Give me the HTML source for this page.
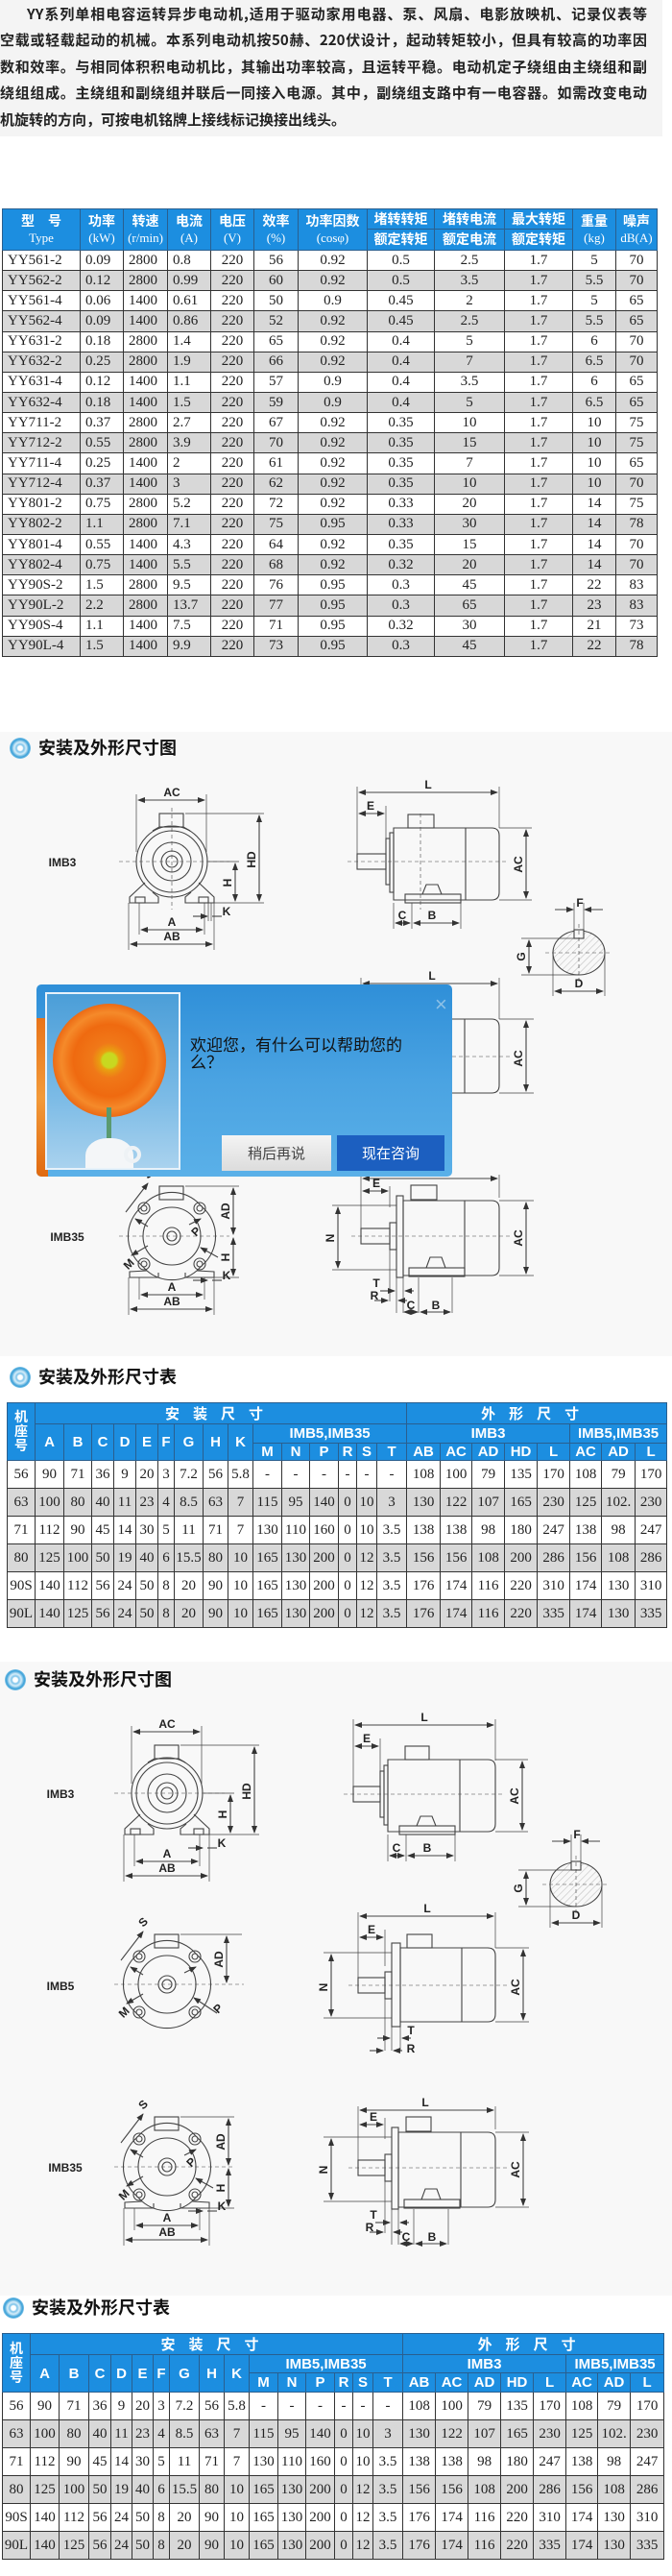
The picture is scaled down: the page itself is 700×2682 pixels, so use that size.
<!DOCTYPE html>
<html><head><meta charset="utf-8">
<style>
*{margin:0;padding:0;box-sizing:border-box}
body{width:700px;height:2682px;overflow:hidden;background:#fff;position:relative;font-family:"Liberation Sans","Noto Sans CJK SC",sans-serif}
.abs{position:absolute}
.intro{position:absolute;left:0;top:0;width:690px;height:142px;background:#f4f4f4}
.ln{position:absolute;left:0;width:674px;font-size:15px;font-weight:bold;color:#222;white-space:nowrap;text-align:justify;text-align-last:justify;line-height:20px;font-family:"Noto Sans CJK SC",sans-serif}
table{border-collapse:collapse;table-layout:fixed;position:absolute}
td,th{border:1.5px solid #333;overflow:hidden;white-space:nowrap;padding:0}
.t1 th{background:#1c8ee0;color:#fff;font-weight:bold;font-size:14px;font-family:"Noto Sans CJK SC",sans-serif;line-height:17px;border-color:#2a5f8f}
.t1 th .e{font-family:"Liberation Serif",serif;font-weight:normal;font-size:13px}
.t1 td{font-family:"Liberation Serif",serif;font-size:15px;height:21.15px;text-align:center;color:#222}
.t1 td.l{text-align:left;padding-left:5px}
.t1 tr:nth-child(even) td{background:#d8d8d8}
.t2 th{background:#1c8ee0;color:#fff;font-size:15px;font-weight:bold;border-color:#2a5f8f;font-family:"Liberation Sans","Noto Sans CJK SC",sans-serif}
.t2 th.c{font-family:"Noto Sans CJK SC",sans-serif;letter-spacing:14px}
.t2 td{font-family:"Liberation Serif",serif;font-size:15px;height:29px;text-align:center;color:#222}
.t2 tr.g td{background:#d8d8d8}
.head{position:absolute;left:10px;font-size:18px;font-weight:bold;color:#111;font-family:"Noto Sans CJK SC",sans-serif;line-height:24px}
.head i{display:inline-block;width:22px;height:22px;border-radius:50%;vertical-align:-5px;margin-right:8px;background:radial-gradient(circle at 50% 50%,#fff 0 15%,#7cc3ea 25%,#d8eef9 40%,#3aa0d8 60%,#bfe3f5 80%,#e8f4fb 100%)}
.panel{position:absolute;background:#f8f8f8}
svg text{font-family:"Liberation Sans",sans-serif;font-size:12px;font-weight:bold;fill:#222;text-anchor:middle}
.pop{position:absolute;left:38px;top:1025px;width:433px;height:200px;border-radius:5px;background:linear-gradient(180deg,#2f8fd8 0%,#4aa3e2 50%,#5ab0e8 100%);overflow:hidden}
</style></head><body>

<div class="intro">
<div class="ln" style="left:28px;width:646px;top:5px">YY系列单相电容运转异步电动机,适用于驱动家用电器、泵、风扇、电影放映机、记录仪表等</div>
<div class="ln" style="top:32px">空载或轻载起动的机械。本系列电动机按50赫、220伏设计，起动转矩较小，但具有较高的功率因</div>
<div class="ln" style="top:60px">数和效率。与相同体积积电动机比，其输出功率较高，且运转平稳。电动机定子绕组由主绕组和副</div>
<div class="ln" style="top:87px">绕组组成。主绕组和副绕组并联后一同接入电源。其中，副绕组支路中有一电容器。如需改变电动</div>
<div class="ln" style="top:115px;width:auto;text-align:left;text-align-last:left">机旋转的方向，可按电机铭牌上接线标记换接出线头。</div>
</div>

<table class="t1" style="left:2px;top:217px;width:682px">
<colgroup><col style="width:81px"><col style="width:45px"><col style="width:46px"><col style="width:45px"><col style="width:45px"><col style="width:46px"><col style="width:72px"><col style="width:70px"><col style="width:73px"><col style="width:71px"><col style="width:45px"><col style="width:43px"></colgroup>
<tr style="height:21px"><th rowspan="2">型　号<br><span class="e">Type</span></th><th rowspan="2">功率<br><span class="e">(kW)</span></th><th rowspan="2">转速<br><span class="e">(r/min)</span></th><th rowspan="2">电流<br><span class="e">(A)</span></th><th rowspan="2">电压<br><span class="e">(V)</span></th><th rowspan="2">效率<br><span class="e">(%)</span></th><th rowspan="2">功率因数<br><span class="e">(cosφ)</span></th><th>堵转转矩</th><th>堵转电流</th><th>最大转矩</th><th rowspan="2">重量<br><span class="e">(kg)</span></th><th rowspan="2">噪声<br><span class="e">dB(A)</span></th></tr>
<tr style="height:22px"><th>额定转矩</th><th>额定电流</th><th>额定转矩</th></tr>
<tr><td class="l">YY561-2</td><td class="l">0.09</td><td class="l">2800</td><td class="l">0.8</td><td>220</td><td>56</td><td>0.92</td><td>0.5</td><td>2.5</td><td>1.7</td><td>5</td><td>70</td></tr>
<tr><td class="l">YY562-2</td><td class="l">0.12</td><td class="l">2800</td><td class="l">0.99</td><td>220</td><td>60</td><td>0.92</td><td>0.5</td><td>3.5</td><td>1.7</td><td>5.5</td><td>70</td></tr>
<tr><td class="l">YY561-4</td><td class="l">0.06</td><td class="l">1400</td><td class="l">0.61</td><td>220</td><td>50</td><td>0.9</td><td>0.45</td><td>2</td><td>1.7</td><td>5</td><td>65</td></tr>
<tr><td class="l">YY562-4</td><td class="l">0.09</td><td class="l">1400</td><td class="l">0.86</td><td>220</td><td>52</td><td>0.92</td><td>0.45</td><td>2.5</td><td>1.7</td><td>5.5</td><td>65</td></tr>
<tr><td class="l">YY631-2</td><td class="l">0.18</td><td class="l">2800</td><td class="l">1.4</td><td>220</td><td>65</td><td>0.92</td><td>0.4</td><td>5</td><td>1.7</td><td>6</td><td>70</td></tr>
<tr><td class="l">YY632-2</td><td class="l">0.25</td><td class="l">2800</td><td class="l">1.9</td><td>220</td><td>66</td><td>0.92</td><td>0.4</td><td>7</td><td>1.7</td><td>6.5</td><td>70</td></tr>
<tr><td class="l">YY631-4</td><td class="l">0.12</td><td class="l">1400</td><td class="l">1.1</td><td>220</td><td>57</td><td>0.9</td><td>0.4</td><td>3.5</td><td>1.7</td><td>6</td><td>65</td></tr>
<tr><td class="l">YY632-4</td><td class="l">0.18</td><td class="l">1400</td><td class="l">1.5</td><td>220</td><td>59</td><td>0.9</td><td>0.4</td><td>5</td><td>1.7</td><td>6.5</td><td>65</td></tr>
<tr><td class="l">YY711-2</td><td class="l">0.37</td><td class="l">2800</td><td class="l">2.7</td><td>220</td><td>67</td><td>0.92</td><td>0.35</td><td>10</td><td>1.7</td><td>10</td><td>75</td></tr>
<tr><td class="l">YY712-2</td><td class="l">0.55</td><td class="l">2800</td><td class="l">3.9</td><td>220</td><td>70</td><td>0.92</td><td>0.35</td><td>15</td><td>1.7</td><td>10</td><td>75</td></tr>
<tr><td class="l">YY711-4</td><td class="l">0.25</td><td class="l">1400</td><td class="l">2</td><td>220</td><td>61</td><td>0.92</td><td>0.35</td><td>7</td><td>1.7</td><td>10</td><td>65</td></tr>
<tr><td class="l">YY712-4</td><td class="l">0.37</td><td class="l">1400</td><td class="l">3</td><td>220</td><td>62</td><td>0.92</td><td>0.35</td><td>10</td><td>1.7</td><td>10</td><td>70</td></tr>
<tr><td class="l">YY801-2</td><td class="l">0.75</td><td class="l">2800</td><td class="l">5.2</td><td>220</td><td>72</td><td>0.92</td><td>0.33</td><td>20</td><td>1.7</td><td>14</td><td>75</td></tr>
<tr><td class="l">YY802-2</td><td class="l">1.1</td><td class="l">2800</td><td class="l">7.1</td><td>220</td><td>75</td><td>0.95</td><td>0.33</td><td>30</td><td>1.7</td><td>14</td><td>78</td></tr>
<tr><td class="l">YY801-4</td><td class="l">0.55</td><td class="l">1400</td><td class="l">4.3</td><td>220</td><td>64</td><td>0.92</td><td>0.35</td><td>15</td><td>1.7</td><td>14</td><td>70</td></tr>
<tr><td class="l">YY802-4</td><td class="l">0.75</td><td class="l">1400</td><td class="l">5.5</td><td>220</td><td>68</td><td>0.92</td><td>0.32</td><td>20</td><td>1.7</td><td>14</td><td>70</td></tr>
<tr><td class="l">YY90S-2</td><td class="l">1.5</td><td class="l">2800</td><td class="l">9.5</td><td>220</td><td>76</td><td>0.95</td><td>0.3</td><td>45</td><td>1.7</td><td>22</td><td>83</td></tr>
<tr><td class="l">YY90L-2</td><td class="l">2.2</td><td class="l">2800</td><td class="l">13.7</td><td>220</td><td>77</td><td>0.95</td><td>0.3</td><td>65</td><td>1.7</td><td>23</td><td>83</td></tr>
<tr><td class="l">YY90S-4</td><td class="l">1.1</td><td class="l">1400</td><td class="l">7.5</td><td>220</td><td>71</td><td>0.95</td><td>0.32</td><td>30</td><td>1.7</td><td>21</td><td>73</td></tr>
<tr><td class="l">YY90L-4</td><td class="l">1.5</td><td class="l">1400</td><td class="l">9.9</td><td>220</td><td>73</td><td>0.95</td><td>0.3</td><td>45</td><td>1.7</td><td>22</td><td>78</td></tr>
</table>

<div class="panel" style="left:0;top:762px;width:700px;height:650px"></div>
<div class="panel" style="left:0;top:1730px;width:700px;height:660px"></div>

<div class="head" style="top:766px"><i></i>安装及外形尺寸图</div>
<div class="head" style="top:1421px"><i></i>安装及外形尺寸表</div>
<div class="head" style="top:1736px;left:5px"><i></i>安装及外形尺寸图</div>
<div class="head" style="top:2390px;left:3px"><i></i>安装及外形尺寸表</div>

<svg class="abs" style="left:0;top:0" width="700" height="2682">
<defs>
<marker id="a" markerWidth="8" markerHeight="6" refX="7" refY="3" orient="auto-start-reverse" markerUnits="userSpaceOnUse"><path d="M0,0 L8,3 L0,6z" fill="#333"/></marker>
<pattern id="h" width="5" height="5" patternUnits="userSpaceOnUse" patternTransform="rotate(45)"><line x1="0" y1="0" x2="0" y2="5" stroke="#aaa" stroke-width="0.8"/></pattern>
</defs>
<g fill="none" stroke="#444" stroke-width="1.1">

<!-- ===== SECTION 1 ===== -->
<text x="65" y="902" stroke="none" font-size="14" font-weight="normal">IMB3</text>
<g transform="translate(179,897)">
 <line x1="-37" y1="-70" x2="-37" y2="-10" stroke-width=".7"/><line x1="36" y1="-70" x2="36" y2="-10" stroke-width=".7"/>
 <line x1="-35" y1="-64" x2="34" y2="-64" marker-start="url(#a)" marker-end="url(#a)"/>
 <text x="0" y="-68" stroke="none">AC</text>
 <rect x="-13" y="-50" width="25" height="14"/><line x1="-13" y1="-36" x2="-20" y2="-32"/><line x1="12" y1="-36" x2="19" y2="-32"/>
 <circle r="37"/><circle r="32"/><circle r="20"/><circle r="11"/><circle r="6"/>
 <path d="M-28,22 L-44,37 V43 H-14 V37 L-20,32"/><path d="M28,22 L44,37 V43 H14 V37 L20,32"/>
 <rect x="-38" y="37" width="10" height="6"/><rect x="28" y="37" width="10" height="6"/>
 <line x1="-55" y1="0" x2="60" y2="0" stroke-dasharray="4 3" stroke-width=".6"/>
 <line x1="0" y1="-56" x2="0" y2="50" stroke-dasharray="4 3" stroke-width=".6"/>
 <line x1="14" y1="-50" x2="96" y2="-50" stroke-width=".7"/><line x1="44" y1="43" x2="96" y2="43" stroke-width=".7"/>
 <line x1="91" y1="-48" x2="91" y2="41" marker-start="url(#a)" marker-end="url(#a)"/>
 <text transform="translate(87,-2) rotate(-90)" stroke="none">HD</text>
 <line x1="38" y1="0" x2="70" y2="0" stroke-width=".7"/>
 <line x1="66" y1="2" x2="66" y2="41" marker-start="url(#a)" marker-end="url(#a)"/>
 <text transform="translate(62,22) rotate(-90)" stroke="none">H</text>
 <line x1="-45" y1="43" x2="-45" y2="92" stroke-width=".7"/><line x1="44" y1="43" x2="44" y2="92" stroke-width=".7"/>
 <line x1="-34" y1="43" x2="-34" y2="76" stroke-width=".7"/><line x1="34" y1="43" x2="34" y2="76" stroke-width=".7"/>
 <line x1="38" y1="43" x2="38" y2="62" stroke-width=".7"/><line x1="41" y1="43" x2="41" y2="62" stroke-width=".7"/>
 <line x1="-32" y1="71" x2="32" y2="71" marker-start="url(#a)" marker-end="url(#a)"/><text x="0" y="67" stroke="none">A</text>
 <line x1="-43" y1="86" x2="42" y2="86" marker-start="url(#a)" marker-end="url(#a)"/><text x="0" y="82" stroke="none">AB</text>
 <line x1="22" y1="57" x2="37" y2="57" marker-end="url(#a)"/><line x1="42" y1="57" x2="52" y2="57"/><text x="57" y="56" stroke="none">K</text>
</g>
<g transform="translate(372,897)">
 <line x1="0" y1="-78" x2="0" y2="-8" stroke-width=".7"/><line x1="148" y1="-78" x2="148" y2="-35" stroke-width=".7"/>
 <line x1="2" y1="-72" x2="146" y2="-72" marker-start="url(#a)" marker-end="url(#a)"/><text x="74" y="-76" stroke="none">L</text>
 <line x1="30" y1="-58" x2="30" y2="-24" stroke-width=".7"/>
 <line x1="2" y1="-50" x2="28" y2="-50" marker-start="url(#a)" marker-end="url(#a)"/><text x="14" y="-54" stroke="none">E</text>
 <rect x="0" y="-8" width="30" height="16"/>
 <rect x="30" y="-24" width="4" height="48"/><rect x="34" y="-30" width="4" height="62"/>
 <path d="M38,-35 H140 Q148,-35 148,-27 V32 Q148,40 140,40 H38 Z"/><line x1="113" y1="-35" x2="113" y2="40"/>
 <rect x="53" y="-49" width="27" height="14"/>
 <rect x="50" y="34" width="58" height="9"/><path d="M68,34 L72,24 H84 L88,34"/>
 <line x1="-10" y1="0" x2="158" y2="0" stroke-dasharray="4 3" stroke-width=".6"/>
 <line x1="66" y1="-50" x2="66" y2="50" stroke-dasharray="4 3" stroke-width=".6"/>
 <line x1="148" y1="-35" x2="182" y2="-35" stroke-width=".7"/><line x1="148" y1="40" x2="182" y2="40" stroke-width=".7"/>
 <line x1="176" y1="-33" x2="176" y2="38" marker-start="url(#a)" marker-end="url(#a)"/>
 <text transform="translate(172,3) rotate(-90)" stroke="none">AC</text>
 <line x1="38" y1="43" x2="38" y2="70" stroke-width=".7"/><line x1="57" y1="43" x2="57" y2="70" stroke-width=".7"/><line x1="108" y1="43" x2="108" y2="70" stroke-width=".7"/>
 <line x1="40" y1="64" x2="55" y2="64" marker-start="url(#a)" marker-end="url(#a)"/><text x="47" y="60" stroke="none">C</text>
 <line x1="59" y1="64" x2="106" y2="64" marker-start="url(#a)" marker-end="url(#a)"/><text x="78" y="60" stroke="none">B</text>
</g>
<g transform="translate(603,992)">
 <ellipse rx="27" ry="23" fill="url(#h)"/>
 <rect x="-5" y="-24" width="10" height="9" fill="#f8f8f8"/>
 <line x1="-5" y1="-52" x2="-5" y2="-15" stroke-width=".7"/><line x1="5" y1="-52" x2="5" y2="-15" stroke-width=".7"/>
 <line x1="-25" y1="-45" x2="-6" y2="-45" marker-end="url(#a)"/><line x1="6" y1="-45" x2="25" y2="-45" marker-start="url(#a)"/>
 <text x="1" y="-48" stroke="none">F</text>
 <line x1="-60" y1="-15" x2="-5" y2="-15" stroke-width=".7"/><line x1="-60" y1="23" x2="0" y2="23" stroke-width=".7"/>
 <line x1="-52" y1="-13" x2="-52" y2="21" marker-start="url(#a)" marker-end="url(#a)"/>
 <text transform="translate(-56,4) rotate(-90)" stroke="none">G</text>
 <line x1="-27" y1="0" x2="-27" y2="45" stroke-width=".7"/><line x1="27" y1="0" x2="27" y2="45" stroke-width=".7"/>
 <line x1="-25" y1="40" x2="25" y2="40" marker-start="url(#a)" marker-end="url(#a)"/><text x="0" y="36" stroke="none">D</text>
 <line x1="-35" y1="0" x2="35" y2="0" stroke-dasharray="4 3" stroke-width=".6"/><line x1="0" y1="-30" x2="0" y2="30" stroke-dasharray="4 3" stroke-width=".6"/>
</g>
<!-- hidden IMB5 side under popup -->
<g transform="translate(376,1100)">
 <line x1="0" y1="-82" x2="0" y2="-8" stroke-width=".7"/><line x1="144" y1="-82" x2="144" y2="-39" stroke-width=".7"/>
 <line x1="2" y1="-76" x2="142" y2="-76" marker-start="url(#a)" marker-end="url(#a)"/><text x="74" y="-80" stroke="none">L</text>
 <path d="M44,-39 H136 Q144,-39 144,-31 V30 Q144,38 136,38 H44 Z"/><line x1="108" y1="-39" x2="108" y2="38"/>
 <line x1="-10" y1="0" x2="158" y2="0" stroke-dasharray="4 3" stroke-width=".6"/>
 <line x1="144" y1="-39" x2="180" y2="-39" stroke-width=".7"/><line x1="144" y1="38" x2="180" y2="38" stroke-width=".7"/>
 <line x1="172" y1="-37" x2="172" y2="36" marker-start="url(#a)" marker-end="url(#a)"/>
 <text transform="translate(168,2) rotate(-90)" stroke="none">AC</text>
</g>

<!-- IMB35 section 1 -->
<text x="70" y="1292" stroke="none" font-size="14" font-weight="normal">IMB35</text>
<g transform="translate(179,1287)">
 <rect x="-13" y="-52" width="25" height="14"/>
 <path d="M-26,-36 A40,40 0 0 1 26,-36 L32,-30 A40,40 0 0 1 32,30 L26,36 A40,40 0 0 1 -26,36 L-32,30 A40,40 0 0 1 -32,-30 Z"/>
 <circle r="30"/><circle r="9"/><circle r="5"/>
 <circle cx="-29" cy="-29" r="6"/><circle cx="29" cy="-29" r="6"/><circle cx="-29" cy="29" r="6"/><circle cx="29" cy="29" r="6"/>
 <circle cx="-29" cy="-29" r="3"/><circle cx="29" cy="-29" r="3"/><circle cx="-29" cy="29" r="3"/><circle cx="29" cy="29" r="3"/>
 <path d="M-26,36 L-44,37 V43 H-14 V38"/><path d="M26,36 L44,37 V43 H14 V38"/>
 <line x1="-55" y1="0" x2="60" y2="0" stroke-dasharray="4 3" stroke-width=".6"/>
 <line x1="-48" y1="-25" x2="-25" y2="-55" marker-end="url(#a)"/><text x="-22" y="-62" stroke="none" transform="rotate(-45,-22,-62)">S</text>
 <line x1="-38" y1="-18" x2="-25" y2="-10" marker-start="url(#a)"/><line x1="-42" y1="20" x2="-25" y2="10" marker-start="url(#a)"/>
 <text x="-42" y="32" stroke="none" transform="rotate(-45,-42,32)">M</text>
 <line x1="18" y1="-12" x2="30" y2="-18" marker-end="url(#a)"/><text x="28" y="-2" stroke="none" transform="rotate(-45,28,-2)">P</text>
 <line x1="30" y1="12" x2="48" y2="22" marker-start="url(#a)"/>
 <line x1="14" y1="-52" x2="70" y2="-52" stroke-width=".7"/><line x1="44" y1="43" x2="70" y2="43" stroke-width=".7"/>
 <line x1="64" y1="-50" x2="64" y2="-2" marker-start="url(#a)" marker-end="url(#a)"/><text transform="translate(60,-26) rotate(-90)" stroke="none">AD</text>
 <line x1="64" y1="2" x2="64" y2="41" marker-start="url(#a)" marker-end="url(#a)"/><text transform="translate(60,22) rotate(-90)" stroke="none">H</text>
 <line x1="-45" y1="43" x2="-45" y2="82" stroke-width=".7"/><line x1="44" y1="43" x2="44" y2="82" stroke-width=".7"/>
 <line x1="-34" y1="43" x2="-34" y2="66" stroke-width=".7"/><line x1="34" y1="43" x2="34" y2="66" stroke-width=".7"/>
 <line x1="-32" y1="61" x2="32" y2="61" marker-start="url(#a)" marker-end="url(#a)"/><text x="0" y="57" stroke="none">A</text>
 <line x1="-43" y1="76" x2="42" y2="76" marker-start="url(#a)" marker-end="url(#a)"/><text x="0" y="72" stroke="none">AB</text>
 <line x1="22" y1="46" x2="37" y2="46" marker-end="url(#a)"/><line x1="42" y1="46" x2="52" y2="46"/><text x="57" y="45" stroke="none">K</text>
</g>
<g transform="translate(376,1287)">
 <line x1="0" y1="-64" x2="0" y2="-8" stroke-width=".7"/><line x1="144" y1="-64" x2="144" y2="-40" stroke-width=".7"/>
 <line x1="2" y1="-60" x2="142" y2="-60" marker-start="url(#a)" marker-end="url(#a)"/>
 <line x1="30" y1="-52" x2="30" y2="-30" stroke-width=".7"/>
 <line x1="2" y1="-47" x2="28" y2="-47" marker-start="url(#a)" marker-end="url(#a)"/><text x="16" y="-51" stroke="none">E</text>
 <rect x="0" y="-8" width="30" height="16"/><rect x="30" y="-14" width="7" height="28"/>
 <rect x="37" y="-42" width="7" height="85"/>
 <path d="M44,-37 H136 Q144,-37 144,-29 V33 Q144,41 136,41 H44 Z"/><line x1="108" y1="-37" x2="108" y2="41"/>
 <rect x="52" y="-53" width="27" height="15"/>
 <rect x="50" y="33" width="58" height="9"/><path d="M68,33 L72,22 H84 L88,33"/>
 <line x1="-10" y1="0" x2="158" y2="0" stroke-dasharray="4 3" stroke-width=".6"/>
 <line x1="-30" y1="-32" x2="37" y2="-32" stroke-width=".7"/><line x1="-30" y1="35" x2="37" y2="35" stroke-width=".7"/>
 <line x1="-24" y1="-30" x2="-24" y2="33" marker-start="url(#a)" marker-end="url(#a)"/><text transform="translate(-28,2) rotate(-90)" stroke="none">N</text>
 <line x1="144" y1="-37" x2="180" y2="-37" stroke-width=".7"/><line x1="144" y1="41" x2="180" y2="41" stroke-width=".7"/>
 <line x1="172" y1="-35" x2="172" y2="39" marker-start="url(#a)" marker-end="url(#a)"/><text transform="translate(168,2) rotate(-90)" stroke="none">AC</text>
 <line x1="37" y1="43" x2="37" y2="80" stroke-width=".7"/><line x1="44" y1="43" x2="44" y2="80" stroke-width=".7"/>
 <line x1="30" y1="14" x2="30" y2="68" stroke-width=".7"/><line x1="60" y1="43" x2="60" y2="80" stroke-width=".7"/><line x1="95" y1="43" x2="95" y2="80" stroke-width=".7"/>
 <line x1="20" y1="57" x2="35" y2="57" marker-end="url(#a)"/><line x1="46" y1="57" x2="55" y2="57" marker-start="url(#a)"/><text x="16" y="53" stroke="none">T</text>
 <line x1="14" y1="67" x2="28" y2="67" marker-end="url(#a)"/><line x1="39" y1="67" x2="48" y2="67" marker-start="url(#a)"/><text x="14" y="66" stroke="none">R</text>
 <line x1="45" y1="79" x2="59" y2="79" marker-start="url(#a)" marker-end="url(#a)"/><text x="52" y="76" stroke="none">C</text>
 <line x1="62" y1="79" x2="93" y2="79" marker-start="url(#a)" marker-end="url(#a)"/><text x="78" y="76" stroke="none">B</text>
</g>

<!-- ===== SECTION 2 ===== -->
<text x="63" y="1872" stroke="none" font-size="14" font-weight="normal">IMB3</text>
<g transform="translate(174,1867)">
 <line x1="-37" y1="-70" x2="-37" y2="-10" stroke-width=".7"/><line x1="36" y1="-70" x2="36" y2="-10" stroke-width=".7"/>
 <line x1="-35" y1="-64" x2="34" y2="-64" marker-start="url(#a)" marker-end="url(#a)"/><text x="0" y="-68" stroke="none">AC</text>
 <rect x="-13" y="-50" width="25" height="14"/><line x1="-13" y1="-36" x2="-20" y2="-32"/><line x1="12" y1="-36" x2="19" y2="-32"/>
 <circle r="37"/><circle r="32"/><circle r="20"/><circle r="11"/><circle r="6"/>
 <path d="M-28,22 L-44,37 V43 H-14 V37 L-20,32"/><path d="M28,22 L44,37 V43 H14 V37 L20,32"/>
 <rect x="-38" y="37" width="10" height="6"/><rect x="28" y="37" width="10" height="6"/>
 <line x1="-55" y1="0" x2="60" y2="0" stroke-dasharray="4 3" stroke-width=".6"/>
 <line x1="14" y1="-50" x2="96" y2="-50" stroke-width=".7"/><line x1="44" y1="43" x2="96" y2="43" stroke-width=".7"/>
 <line x1="91" y1="-48" x2="91" y2="41" marker-start="url(#a)" marker-end="url(#a)"/><text transform="translate(87,-2) rotate(-90)" stroke="none">HD</text>
 <line x1="38" y1="0" x2="70" y2="0" stroke-width=".7"/>
 <line x1="66" y1="2" x2="66" y2="41" marker-start="url(#a)" marker-end="url(#a)"/><text transform="translate(62,22) rotate(-90)" stroke="none">H</text>
 <line x1="-45" y1="43" x2="-45" y2="92" stroke-width=".7"/><line x1="44" y1="43" x2="44" y2="92" stroke-width=".7"/>
 <line x1="-34" y1="43" x2="-34" y2="76" stroke-width=".7"/><line x1="34" y1="43" x2="34" y2="76" stroke-width=".7"/>
 <line x1="-32" y1="71" x2="32" y2="71" marker-start="url(#a)" marker-end="url(#a)"/><text x="0" y="67" stroke="none">A</text>
 <line x1="-43" y1="86" x2="42" y2="86" marker-start="url(#a)" marker-end="url(#a)"/><text x="0" y="82" stroke="none">AB</text>
 <line x1="22" y1="57" x2="37" y2="57" marker-end="url(#a)"/><line x1="42" y1="57" x2="52" y2="57"/><text x="57" y="56" stroke="none">K</text>
</g>
<g transform="translate(368,1868)">
 <line x1="0" y1="-78" x2="0" y2="-8" stroke-width=".7"/><line x1="148" y1="-78" x2="148" y2="-35" stroke-width=".7"/>
 <line x1="2" y1="-72" x2="146" y2="-72" marker-start="url(#a)" marker-end="url(#a)"/><text x="74" y="-76" stroke="none">L</text>
 <line x1="28" y1="-58" x2="28" y2="-24" stroke-width=".7"/>
 <line x1="2" y1="-50" x2="26" y2="-50" marker-start="url(#a)" marker-end="url(#a)"/><text x="14" y="-54" stroke="none">E</text>
 <rect x="0" y="-8" width="28" height="16"/>
 <rect x="28" y="-24" width="4" height="48"/><rect x="32" y="-30" width="4" height="62"/>
 <path d="M36,-36 H140 Q148,-36 148,-28 V31 Q148,39 140,39 H36 Z"/><line x1="111" y1="-36" x2="111" y2="39"/>
 <rect x="54" y="-50" width="25" height="14"/>
 <rect x="48" y="33" width="58" height="9"/><path d="M66,33 L70,23 H82 L86,33"/>
 <line x1="-10" y1="0" x2="158" y2="0" stroke-dasharray="4 3" stroke-width=".6"/>
 <line x1="148" y1="-36" x2="182" y2="-36" stroke-width=".7"/><line x1="148" y1="39" x2="182" y2="39" stroke-width=".7"/>
 <line x1="176" y1="-34" x2="176" y2="37" marker-start="url(#a)" marker-end="url(#a)"/><text transform="translate(172,2) rotate(-90)" stroke="none">AC</text>
 <line x1="36" y1="42" x2="36" y2="70" stroke-width=".7"/><line x1="55" y1="42" x2="55" y2="70" stroke-width=".7"/><line x1="106" y1="42" x2="106" y2="70" stroke-width=".7"/>
 <line x1="38" y1="64" x2="53" y2="64" marker-start="url(#a)" marker-end="url(#a)"/><text x="45" y="60" stroke="none">C</text>
 <line x1="57" y1="64" x2="104" y2="64" marker-start="url(#a)" marker-end="url(#a)"/><text x="77" y="60" stroke="none">B</text>
</g>
<g transform="translate(600,1962)">
 <ellipse rx="27" ry="23" fill="url(#h)"/>
 <rect x="-5" y="-24" width="10" height="9" fill="#f8f8f8"/>
 <line x1="-5" y1="-52" x2="-5" y2="-15" stroke-width=".7"/><line x1="5" y1="-52" x2="5" y2="-15" stroke-width=".7"/>
 <line x1="-25" y1="-45" x2="-6" y2="-45" marker-end="url(#a)"/><line x1="6" y1="-45" x2="25" y2="-45" marker-start="url(#a)"/>
 <text x="1" y="-48" stroke="none">F</text>
 <line x1="-60" y1="-15" x2="-5" y2="-15" stroke-width=".7"/><line x1="-60" y1="23" x2="0" y2="23" stroke-width=".7"/>
 <line x1="-52" y1="-13" x2="-52" y2="21" marker-start="url(#a)" marker-end="url(#a)"/><text transform="translate(-56,4) rotate(-90)" stroke="none">G</text>
 <line x1="-27" y1="0" x2="-27" y2="45" stroke-width=".7"/><line x1="27" y1="0" x2="27" y2="45" stroke-width=".7"/>
 <line x1="-25" y1="40" x2="25" y2="40" marker-start="url(#a)" marker-end="url(#a)"/><text x="0" y="36" stroke="none">D</text>
 <line x1="-35" y1="0" x2="35" y2="0" stroke-dasharray="4 3" stroke-width=".6"/><line x1="0" y1="-30" x2="0" y2="30" stroke-dasharray="4 3" stroke-width=".6"/>
</g>

<text x="63" y="2072" stroke="none" font-size="14" font-weight="normal">IMB5</text>
<g transform="translate(174,2066)">
 <rect x="-13" y="-52" width="25" height="14"/>
 <path d="M-26,-36 A40,40 0 0 1 26,-36 L32,-30 A40,40 0 0 1 32,30 L26,36 A40,40 0 0 1 -26,36 L-32,30 A40,40 0 0 1 -32,-30 Z"/>
 <circle r="30"/><circle r="9"/><circle r="5"/>
 <circle cx="-29" cy="-29" r="6"/><circle cx="29" cy="-29" r="6"/><circle cx="-29" cy="29" r="6"/><circle cx="29" cy="29" r="6"/>
 <circle cx="-29" cy="-29" r="3"/><circle cx="29" cy="-29" r="3"/><circle cx="-29" cy="29" r="3"/><circle cx="29" cy="29" r="3"/>
 <line x1="-55" y1="0" x2="80" y2="0" stroke-dasharray="4 3" stroke-width=".6"/>
 <line x1="-48" y1="-25" x2="-25" y2="-55" marker-end="url(#a)"/><text x="-22" y="-62" stroke="none" transform="rotate(-45,-22,-62)">S</text>
 <line x1="-38" y1="-18" x2="-25" y2="-10" marker-start="url(#a)"/><line x1="-42" y1="20" x2="-25" y2="10" marker-start="url(#a)"/>
 <text x="-42" y="32" stroke="none" transform="rotate(-45,-42,32)">M</text>
 <line x1="18" y1="-12" x2="30" y2="-18" marker-end="url(#a)"/><line x1="28" y1="14" x2="52" y2="30" marker-start="url(#a)"/>
 <text x="56" y="28" stroke="none" transform="rotate(-45,56,28)">P</text>
 <line x1="14" y1="-52" x2="78" y2="-52" stroke-width=".7"/>
 <line x1="62" y1="-50" x2="62" y2="-2" marker-start="url(#a)" marker-end="url(#a)"/><text transform="translate(58,-26) rotate(-90)" stroke="none">AD</text>
</g>
<g transform="translate(373,2067)">
 <line x1="0" y1="-76" x2="0" y2="-8" stroke-width=".7"/><line x1="143" y1="-76" x2="143" y2="-39" stroke-width=".7"/>
 <line x1="2" y1="-72" x2="141" y2="-72" marker-start="url(#a)" marker-end="url(#a)"/><text x="72" y="-76" stroke="none">L</text>
 <line x1="28" y1="-58" x2="28" y2="-20" stroke-width=".7"/>
 <line x1="2" y1="-50" x2="26" y2="-50" marker-start="url(#a)" marker-end="url(#a)"/><text x="14" y="-54" stroke="none">E</text>
 <rect x="0" y="-8" width="28" height="16"/><rect x="28" y="-14" width="7" height="28"/>
 <rect x="35" y="-44" width="9" height="87"/>
 <path d="M44,-39 H135 Q143,-39 143,-31 V30 Q143,38 135,38 H44 Z"/><line x1="108" y1="-39" x2="108" y2="38"/>
 <rect x="51" y="-53" width="26" height="14"/>
 <line x1="-10" y1="0" x2="158" y2="0" stroke-dasharray="4 3" stroke-width=".6"/>
 <line x1="-36" y1="-34" x2="35" y2="-34" stroke-width=".7"/><line x1="-36" y1="34" x2="35" y2="34" stroke-width=".7"/>
 <line x1="-28" y1="-32" x2="-28" y2="32" marker-start="url(#a)" marker-end="url(#a)"/><text transform="translate(-32,2) rotate(-90)" stroke="none">N</text>
 <line x1="143" y1="-39" x2="178" y2="-39" stroke-width=".7"/><line x1="143" y1="38" x2="178" y2="38" stroke-width=".7"/>
 <line x1="172" y1="-37" x2="172" y2="36" marker-start="url(#a)" marker-end="url(#a)"/><text transform="translate(168,2) rotate(-90)" stroke="none">AC</text>
 <line x1="35" y1="43" x2="35" y2="68" stroke-width=".7"/><line x1="44" y1="43" x2="44" y2="68" stroke-width=".7"/><line x1="28" y1="14" x2="28" y2="68" stroke-width=".7"/>
 <line x1="20" y1="55" x2="33" y2="55" marker-end="url(#a)"/><line x1="46" y1="55" x2="55" y2="55" marker-start="url(#a)"/><text x="55" y="51" stroke="none">T</text>
 <line x1="12" y1="68" x2="26" y2="68" marker-end="url(#a)"/><line x1="37" y1="68" x2="46" y2="68" marker-start="url(#a)"/><text x="55" y="70" stroke="none">R</text>
</g>

<text x="68" y="2261" stroke="none" font-size="14" font-weight="normal">IMB35</text>
<g transform="translate(174,2256)">
 <rect x="-13" y="-52" width="25" height="14"/>
 <path d="M-26,-36 A40,40 0 0 1 26,-36 L32,-30 A40,40 0 0 1 32,30 L26,36 A40,40 0 0 1 -26,36 L-32,30 A40,40 0 0 1 -32,-30 Z"/>
 <circle r="30"/><circle r="9"/><circle r="5"/>
 <circle cx="-29" cy="-29" r="6"/><circle cx="29" cy="-29" r="6"/><circle cx="-29" cy="29" r="6"/><circle cx="29" cy="29" r="6"/>
 <circle cx="-29" cy="-29" r="3"/><circle cx="29" cy="-29" r="3"/><circle cx="-29" cy="29" r="3"/><circle cx="29" cy="29" r="3"/>
 <path d="M-26,36 L-44,37 V43 H-14 V38"/><path d="M26,36 L44,37 V43 H14 V38"/>
 <line x1="-55" y1="0" x2="70" y2="0" stroke-dasharray="4 3" stroke-width=".6"/>
 <line x1="-48" y1="-25" x2="-25" y2="-55" marker-end="url(#a)"/><text x="-22" y="-62" stroke="none" transform="rotate(-45,-22,-62)">S</text>
 <line x1="-38" y1="-18" x2="-25" y2="-10" marker-start="url(#a)"/><line x1="-42" y1="20" x2="-25" y2="10" marker-start="url(#a)"/>
 <text x="-42" y="32" stroke="none" transform="rotate(-45,-42,32)">M</text>
 <line x1="18" y1="-12" x2="30" y2="-18" marker-end="url(#a)"/><text x="28" y="-2" stroke="none" transform="rotate(-45,28,-2)">P</text>
 <line x1="30" y1="12" x2="48" y2="22" marker-start="url(#a)"/>
 <line x1="14" y1="-52" x2="70" y2="-52" stroke-width=".7"/><line x1="44" y1="43" x2="70" y2="43" stroke-width=".7"/>
 <line x1="64" y1="-50" x2="64" y2="-2" marker-start="url(#a)" marker-end="url(#a)"/><text transform="translate(60,-26) rotate(-90)" stroke="none">AD</text>
 <line x1="64" y1="2" x2="64" y2="41" marker-start="url(#a)" marker-end="url(#a)"/><text transform="translate(60,22) rotate(-90)" stroke="none">H</text>
 <line x1="-45" y1="43" x2="-45" y2="82" stroke-width=".7"/><line x1="44" y1="43" x2="44" y2="82" stroke-width=".7"/>
 <line x1="-34" y1="43" x2="-34" y2="66" stroke-width=".7"/><line x1="34" y1="43" x2="34" y2="66" stroke-width=".7"/>
 <line x1="-32" y1="61" x2="32" y2="61" marker-start="url(#a)" marker-end="url(#a)"/><text x="0" y="57" stroke="none">A</text>
 <line x1="-43" y1="76" x2="42" y2="76" marker-start="url(#a)" marker-end="url(#a)"/><text x="0" y="72" stroke="none">AB</text>
 <line x1="22" y1="46" x2="37" y2="46" marker-end="url(#a)"/><line x1="42" y1="46" x2="52" y2="46"/><text x="57" y="45" stroke="none">K</text>
</g>
<g transform="translate(373,2257)">
 <line x1="0" y1="-64" x2="0" y2="-8" stroke-width=".7"/><line x1="143" y1="-64" x2="143" y2="-40" stroke-width=".7"/>
 <line x1="2" y1="-60" x2="141" y2="-60" marker-start="url(#a)" marker-end="url(#a)"/><text x="70" y="-64" stroke="none">L</text>
 <line x1="28" y1="-52" x2="28" y2="-30" stroke-width=".7"/>
 <line x1="2" y1="-45" x2="26" y2="-45" marker-start="url(#a)" marker-end="url(#a)"/><text x="16" y="-49" stroke="none">E</text>
 <rect x="0" y="-8" width="28" height="16"/><rect x="28" y="-14" width="7" height="28"/>
 <rect x="35" y="-42" width="7" height="85"/>
 <path d="M42,-37 H135 Q143,-37 143,-29 V33 Q143,41 135,41 H42 Z"/><line x1="107" y1="-37" x2="107" y2="41"/>
 <rect x="50" y="-53" width="26" height="15"/>
 <rect x="48" y="33" width="58" height="9"/><path d="M66,33 L70,22 H82 L86,33"/>
 <line x1="-10" y1="0" x2="158" y2="0" stroke-dasharray="4 3" stroke-width=".6"/>
 <line x1="-36" y1="-32" x2="35" y2="-32" stroke-width=".7"/><line x1="-36" y1="35" x2="35" y2="35" stroke-width=".7"/>
 <line x1="-28" y1="-30" x2="-28" y2="33" marker-start="url(#a)" marker-end="url(#a)"/><text transform="translate(-32,2) rotate(-90)" stroke="none">N</text>
 <line x1="143" y1="-37" x2="178" y2="-37" stroke-width=".7"/><line x1="143" y1="41" x2="178" y2="41" stroke-width=".7"/>
 <line x1="172" y1="-35" x2="172" y2="39" marker-start="url(#a)" marker-end="url(#a)"/><text transform="translate(168,2) rotate(-90)" stroke="none">AC</text>
 <line x1="35" y1="43" x2="35" y2="80" stroke-width=".7"/><line x1="42" y1="43" x2="42" y2="80" stroke-width=".7"/>
 <line x1="28" y1="14" x2="28" y2="68" stroke-width=".7"/><line x1="58" y1="43" x2="58" y2="80" stroke-width=".7"/><line x1="94" y1="43" x2="94" y2="80" stroke-width=".7"/>
 <line x1="18" y1="57" x2="33" y2="57" marker-end="url(#a)"/><line x1="44" y1="57" x2="53" y2="57" marker-start="url(#a)"/><text x="16" y="53" stroke="none">T</text>
 <line x1="12" y1="67" x2="26" y2="67" marker-end="url(#a)"/><line x1="37" y1="67" x2="46" y2="67" marker-start="url(#a)"/><text x="12" y="66" stroke="none">R</text>
 <line x1="44" y1="79" x2="57" y2="79" marker-start="url(#a)" marker-end="url(#a)"/><text x="50" y="76" stroke="none">C</text>
 <line x1="60" y1="79" x2="92" y2="79" marker-start="url(#a)" marker-end="url(#a)"/><text x="77" y="76" stroke="none">B</text>
</g>
</g>
</svg>

<!-- Dimension table 2 -->
<table class="t2" style="left:7px;top:1460px;width:687px">
<colgroup><col style="width:29px"><col style="width:30px"><col style="width:29px"><col style="width:23px"><col style="width:23px"><col style="width:23px"><col style="width:17px"><col style="width:30px"><col style="width:26px"><col style="width:26px"><col style="width:30px"><col style="width:29px"><col style="width:30px"><col style="width:19px"><col style="width:21px"><col style="width:31px"><col style="width:35px"><col style="width:33px"><col style="width:34px"><col style="width:34px"><col style="width:34px"><col style="width:33px"><col style="width:35px"><col style="width:33px"></colgroup>
<tr style="height:20px"><th rowspan="3" style="font-family:'Noto Sans CJK SC',sans-serif;line-height:15px;font-size:14px">机<br>座<br>号</th><th colspan="15" class="c">安装尺寸</th><th colspan="8" class="c">外形尺寸</th></tr>
<tr style="height:20px"><th rowspan="2">A</th><th rowspan="2">B</th><th rowspan="2">C</th><th rowspan="2">D</th><th rowspan="2">E</th><th rowspan="2">F</th><th rowspan="2">G</th><th rowspan="2">H</th><th rowspan="2">K</th><th colspan="6">IMB5,IMB35</th><th colspan="5">IMB3</th><th colspan="3">IMB5,IMB35</th></tr>
<tr style="height:18px"><th>M</th><th>N</th><th>P</th><th>R</th><th>S</th><th>T</th><th>AB</th><th>AC</th><th>AD</th><th>HD</th><th>L</th><th>AC</th><th>AD</th><th>L</th></tr>
<tr><td>56</td><td>90</td><td>71</td><td>36</td><td>9</td><td>20</td><td>3</td><td>7.2</td><td>56</td><td>5.8</td><td>-</td><td>-</td><td>-</td><td>-</td><td>-</td><td>-</td><td>108</td><td>100</td><td>79</td><td>135</td><td>170</td><td>108</td><td>79</td><td>170</td></tr>
<tr class="g"><td>63</td><td>100</td><td>80</td><td>40</td><td>11</td><td>23</td><td>4</td><td>8.5</td><td>63</td><td>7</td><td>115</td><td>95</td><td>140</td><td>0</td><td>10</td><td>3</td><td>130</td><td>122</td><td>107</td><td>165</td><td>230</td><td>125</td><td>102.</td><td>230</td></tr>
<tr><td>71</td><td>112</td><td>90</td><td>45</td><td>14</td><td>30</td><td>5</td><td>11</td><td>71</td><td>7</td><td>130</td><td>110</td><td>160</td><td>0</td><td>10</td><td>3.5</td><td>138</td><td>138</td><td>98</td><td>180</td><td>247</td><td>138</td><td>98</td><td>247</td></tr>
<tr class="g"><td>80</td><td>125</td><td>100</td><td>50</td><td>19</td><td>40</td><td>6</td><td>15.5</td><td>80</td><td>10</td><td>165</td><td>130</td><td>200</td><td>0</td><td>12</td><td>3.5</td><td>156</td><td>156</td><td>108</td><td>200</td><td>286</td><td>156</td><td>108</td><td>286</td></tr>
<tr><td>90S</td><td>140</td><td>112</td><td>56</td><td>24</td><td>50</td><td>8</td><td>20</td><td>90</td><td>10</td><td>165</td><td>130</td><td>200</td><td>0</td><td>12</td><td>3.5</td><td>176</td><td>174</td><td>116</td><td>220</td><td>310</td><td>174</td><td>130</td><td>310</td></tr>
<tr class="g"><td>90L</td><td>140</td><td>125</td><td>56</td><td>24</td><td>50</td><td>8</td><td>20</td><td>90</td><td>10</td><td>165</td><td>130</td><td>200</td><td>0</td><td>12</td><td>3.5</td><td>176</td><td>174</td><td>116</td><td>220</td><td>335</td><td>174</td><td>130</td><td>335</td></tr>
</table>

<table class="t2" style="left:2px;top:2429px;width:689px">
<colgroup><col style="width:29px"><col style="width:30px"><col style="width:31px"><col style="width:23px"><col style="width:22px"><col style="width:22px"><col style="width:17px"><col style="width:31px"><col style="width:26px"><col style="width:26px"><col style="width:30px"><col style="width:29px"><col style="width:30px"><col style="width:19px"><col style="width:21px"><col style="width:31px"><col style="width:34px"><col style="width:34px"><col style="width:34px"><col style="width:34px"><col style="width:34px"><col style="width:33px"><col style="width:34px"><col style="width:35px"></colgroup>
<tr style="height:19px"><th rowspan="3" style="font-family:'Noto Sans CJK SC',sans-serif;line-height:15px;font-size:14px">机<br>座<br>号</th><th colspan="15" class="c">安装尺寸</th><th colspan="8" class="c">外形尺寸</th></tr>
<tr style="height:19px"><th rowspan="2">A</th><th rowspan="2">B</th><th rowspan="2">C</th><th rowspan="2">D</th><th rowspan="2">E</th><th rowspan="2">F</th><th rowspan="2">G</th><th rowspan="2">H</th><th rowspan="2">K</th><th colspan="6">IMB5,IMB35</th><th colspan="5">IMB3</th><th colspan="3">IMB5,IMB35</th></tr>
<tr style="height:20px"><th>M</th><th>N</th><th>P</th><th>R</th><th>S</th><th>T</th><th>AB</th><th>AC</th><th>AD</th><th>HD</th><th>L</th><th>AC</th><th>AD</th><th>L</th></tr>
<tr><td>56</td><td>90</td><td>71</td><td>36</td><td>9</td><td>20</td><td>3</td><td>7.2</td><td>56</td><td>5.8</td><td>-</td><td>-</td><td>-</td><td>-</td><td>-</td><td>-</td><td>108</td><td>100</td><td>79</td><td>135</td><td>170</td><td>108</td><td>79</td><td>170</td></tr>
<tr class="g"><td>63</td><td>100</td><td>80</td><td>40</td><td>11</td><td>23</td><td>4</td><td>8.5</td><td>63</td><td>7</td><td>115</td><td>95</td><td>140</td><td>0</td><td>10</td><td>3</td><td>130</td><td>122</td><td>107</td><td>165</td><td>230</td><td>125</td><td>102.</td><td>230</td></tr>
<tr><td>71</td><td>112</td><td>90</td><td>45</td><td>14</td><td>30</td><td>5</td><td>11</td><td>71</td><td>7</td><td>130</td><td>110</td><td>160</td><td>0</td><td>10</td><td>3.5</td><td>138</td><td>138</td><td>98</td><td>180</td><td>247</td><td>138</td><td>98</td><td>247</td></tr>
<tr class="g"><td>80</td><td>125</td><td>100</td><td>50</td><td>19</td><td>40</td><td>6</td><td>15.5</td><td>80</td><td>10</td><td>165</td><td>130</td><td>200</td><td>0</td><td>12</td><td>3.5</td><td>156</td><td>156</td><td>108</td><td>200</td><td>286</td><td>156</td><td>108</td><td>286</td></tr>
<tr><td>90S</td><td>140</td><td>112</td><td>56</td><td>24</td><td>50</td><td>8</td><td>20</td><td>90</td><td>10</td><td>165</td><td>130</td><td>200</td><td>0</td><td>12</td><td>3.5</td><td>176</td><td>174</td><td>116</td><td>220</td><td>310</td><td>174</td><td>130</td><td>310</td></tr>
<tr class="g"><td>90L</td><td>140</td><td>125</td><td>56</td><td>24</td><td>50</td><td>8</td><td>20</td><td>90</td><td>10</td><td>165</td><td>130</td><td>200</td><td>0</td><td>12</td><td>3.5</td><td>176</td><td>174</td><td>116</td><td>220</td><td>335</td><td>174</td><td>130</td><td>335</td></tr>
</table>

<!-- Popup -->
<div class="pop">
 <div class="abs" style="left:0;top:35px;width:12px;height:165px;background:linear-gradient(180deg,#e8741a,#f29a3a 50%,#e06a10)"></div>
 <div class="abs" style="left:9px;top:8px;width:141px;height:185px;border:2px solid #e8f2fa;background:linear-gradient(180deg,#4b9ed8 0%,#7cbbe6 60%,#a9d2ee 100%);overflow:hidden">
  <div class="abs" style="left:6px;top:10px;width:118px;height:118px;border-radius:50%;background:radial-gradient(circle,#c8d820 0 9%,#e8a010 12%,#f07818 22%,#ef6a10 45%,#f58a2a 60%,#e85d0c 75%,rgba(240,110,20,0) 78%)"></div>
  <div class="abs" style="left:62px;top:118px;width:5px;height:55px;background:#5a9a70"></div>
  <div class="abs" style="left:40px;top:150px;width:50px;height:40px;border-radius:45% 45% 10% 10%;background:#f4f6f8"></div>
  <div class="abs" style="left:80px;top:158px;width:18px;height:18px;border:4px solid #eef2f5;border-radius:50%"></div>
 </div>
 <div class="abs" style="left:160px;top:53px;font-size:17px;line-height:18px;color:#111;font-family:'Noto Sans CJK SC',sans-serif;width:240px">欢迎您，有什么可以帮助您的么？</div>
 <div class="abs" style="left:415px;top:8px;font-size:22px;color:#8cc0e6;font-family:'Liberation Sans',sans-serif">×</div>
 <div class="abs" style="left:193px;top:157px;width:114px;height:37px;background:linear-gradient(#f4f4f4,#dcdcdc);color:#444;font-size:15px;text-align:center;line-height:37px;font-family:'Noto Sans CJK SC',sans-serif">稍后再说</div>
 <div class="abs" style="left:313px;top:157px;width:112px;height:37px;background:#1c5fc0;color:#fff;font-size:15px;text-align:center;line-height:37px;font-family:'Noto Sans CJK SC',sans-serif">现在咨询</div>
</div>
</body></html>
